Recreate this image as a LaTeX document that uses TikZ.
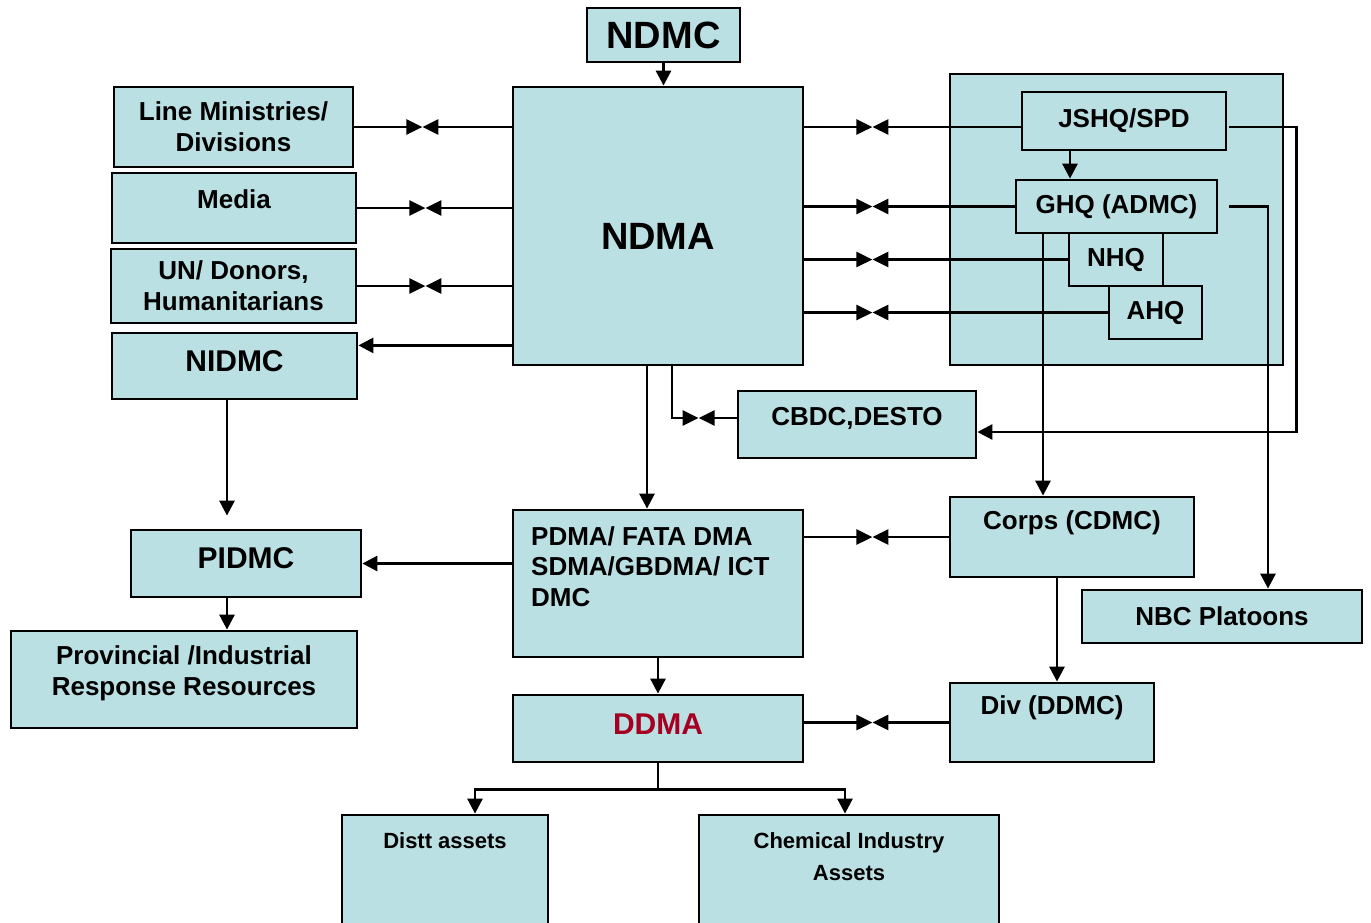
\documentclass[tikz,border=0pt]{standalone}
\usepackage{fontspec}
\setmainfont{Liberation Sans}
\usetikzlibrary{arrows.meta, calc, positioning}

\definecolor{boxfill}{HTML}{BBE0E3}
\definecolor{ddmared}{HTML}{A50021}

\tikzset{
  box/.style={draw, fill=boxfill, line width=2.8pt, inner sep=0pt, align=center,
    font=\bfseries\fontsize{26}{31}\selectfont},
  txt/.style={inner sep=0pt, align=center, font=\bfseries\fontsize{26}{31}\selectfont},
  bigtxt/.style={font=\bfseries\fontsize{38}{44}\selectfont},
  midtxt/.style={font=\bfseries\fontsize{30}{36}\selectfont},
  smalltxt/.style={font=\bfseries\fontsize{22}{32}\selectfont},
  arr/.style={line width=2.8pt, -{Triangle[length=15pt,width=15pt]}},
  meet/.style={line width=2.8pt, -{Triangle[length=16pt,width=15pt]}},
}

\begin{document}
\begin{tikzpicture}[x=1pt, y=-1pt]

%%Parameters
%% distance from a line's start to where the two tips meet
\def\meetGap{68}

\clip (0,0) rectangle (1371,922);

    %% left column
    \node[box, minimum width=239, minimum height=80] (lmd) at (233.5,127) {Line Ministries/\\Divisions};
    \node[box, minimum width=244, minimum height=70] (media) at (234,208) {};
    \node[txt] (mediaT) at (234,199) {Media};
    \node[box, minimum width=245, minimum height=74] (undon) at (233.5,286) {UN/ Donors,\\Humanitarians};
    \node[box, minimum width=245, minimum height=66] (nidmc) at (234.5,366) {};
    \node[txt, midtxt] (nidmcT) at (234.5,361) {NIDMC};
    \node[box, minimum width=230, minimum height=67] (pidmc) at (246,563.5) {};
    \node[txt, midtxt] (pidmcT) at (246,558) {PIDMC};
    \node[box, minimum width=346, minimum height=97] (prov) at (184,679.5) {};
    \node[txt] (provT) at (184,673) {Provincial /Industrial\\Response Resources};

    %% centre column
    \node[box, bigtxt, minimum width=153, minimum height=54] (ndmc) at (663.5,35) {NDMC};
    \node[box, minimum width=290, minimum height=278] (ndma) at (658,226) {};
    \node[txt, bigtxt] (ndmaT) at (658,236) {NDMA};
    \node[box, minimum width=238, minimum height=67] (cbdc) at (857,424.5) {};
    \node[txt] (cbdcT) at (857,418) {CBDC,DESTO};
    \node[box, minimum width=290, minimum height=147] (pdma) at (658,583.5) {};
    \node[txt, align=left, anchor=north west, font=\bfseries\fontsize{26}{30.5}\selectfont] (pdmaT) at (531,526)
        {PDMA/ FATA DMA\\SDMA/GBDMA/ ICT\\DMC};
    \node[box, minimum width=290, minimum height=67] (ddma) at (658,728.5) {};
    \node[txt, midtxt, text=ddmared] (ddmaT) at (658,724) {DDMA};

    %% armed forces
    \node[box, minimum width=333, minimum height=291] (army) at (1116.5,219.5) {};
    \node[box, minimum width=204, minimum height=58] (jshq) at (1124,121) {JSHQ/SPD};
    \node[box, minimum width=201, minimum height=53] (ghq) at (1116.5,206.5) {GHQ (ADMC)};
    \node[box, minimum width=94, minimum height=53] (nhq) at (1116,259.5) {NHQ};
    \node[box, minimum width=93, minimum height=53] (ahq) at (1155.5,312.5) {AHQ};
    \node[box, minimum width=244, minimum height=80] (corps) at (1072,537) {};
    \node[txt] (corpsT) at (1072,523) {Corps (CDMC)};
    \node[box, minimum width=280, minimum height=53] (nbc) at (1222,616.5) {NBC Platoons};
    \node[box, minimum width=204, minimum height=79] (div) at (1052,722.5) {};
    \node[txt] (divT) at (1052,708) {Div (DDMC)};

    %% assets
    \node[box, minimum width=206, minimum height=112] (distt) at (445,871) {};
    \node[txt, smalltxt] (disttT) at (445,841) {Distt assets};
    \node[box, minimum width=300, minimum height=112] (chem) at (849,871) {};
    \node[txt, smalltxt] (chemT) at (849,857) {Chemical Industry\\Assets};


    %% two way links, tips meet near the outer box
    \foreach \n in {lmd, media, undon} {
        \coordinate (m\n) at ($(\n.east)+(\meetGap,0)$);
        \draw[meet] (\n.east) -- (m\n);
        \draw[meet] (ndma.west |- \n.east) -- (m\n);
    }

    \coordinate (jshqW) at ($(jshq.west)+(0,6)$);
    \foreach \n in {jshqW, ghq.west, nhq.west, ahq.west} {
        \coordinate (m) at ($(ndma.east |- \n)+(\meetGap,0)$);
        \draw[meet] (ndma.east |- \n) -- (m);
        \draw[meet] (\n) -- (m);
    }

    \coordinate (mcorps) at ($(pdma.east |- corps.west)+(\meetGap,0)$);
    \draw[meet] (pdma.east |- corps.west) -- (mcorps);
    \draw[meet] (corps.west) -- (mcorps);

    \coordinate (mdiv) at ($(ddma.east |- div.west)+(\meetGap,0)$);
    \draw[meet] (ddma.east |- div.west) -- (mdiv);
    \draw[meet] (div.west) -- (mdiv);

    \coordinate (ndmaC) at ($(ndma.south)+(14,0)$);
    \coordinate (mcbdc) at ($(cbdc.west)+(-38,-6.5)$);
    \draw[meet] (ndmaC) |- (mcbdc);
    \draw[meet] (cbdc.west |- mcbdc) -- (mcbdc);

    %% one way links
    \draw[arr] (ndmc.south) -- (ndma.north -| ndmc.south);

    \coordinate (ndmaN) at ($(ndma.south west)+(0,-21)$);
    \draw[arr] (ndmaN) -- (nidmc.east |- ndmaN);

    \coordinate (ndmaP) at ($(ndma.south)+(-11,0)$);
    \draw[arr] (ndmaP) -- (ndmaP |- pdma.north);

    \coordinate (nidmcP) at ($(nidmc.south)+(-7.5,0)$);
    \draw[arr] (nidmcP) -- ($(nidmcP |- pidmc.north)+(0,-13)$);

    \coordinate (pidmcP) at ($(pidmc.south)+(-19,0)$);
    \draw[arr] (pidmcP) -- (pidmcP |- prov.north);

    \draw[arr] (pdma.west |- pidmc.east) -- (pidmc.east);
    \draw[arr] (pdma.south) -- (ddma.north);

    \draw[arr] (ddma.south) -- ++(0,26) -| ($(distt.north)+(30,0)$);
    \draw[arr] (ddma.south) -- ++(0,26) -| ($(chem.north)+(-4,0)$);

    \coordinate (jshqG) at ($(jshq.south)+(-54,0)$);
    \draw[arr] (jshqG) -- (jshqG |- ghq.north);

    \coordinate (ghqC) at ($(ghq.south)+(-73.5,0)$);
    \draw[arr] (ghqC) -- (ghqC |- corps.north);

    \coordinate (corpsD) at ($(corps.south)+(-15,0)$);
    \draw[arr] (corpsD) -- (corpsD |- div.north);

    \coordinate (jshqE) at ($(jshq.east)+(2,6)$);
    \draw[arr] (jshqE) -- ++(67,0) |- ($(cbdc.east)+(0,7.5)$);

    \coordinate (ghqE) at ($(ghq.east)+(11,0)$);
    \draw[arr] (ghqE) -| ($(nbc.north)+(46,0)$);

\end{tikzpicture}
\end{document}
